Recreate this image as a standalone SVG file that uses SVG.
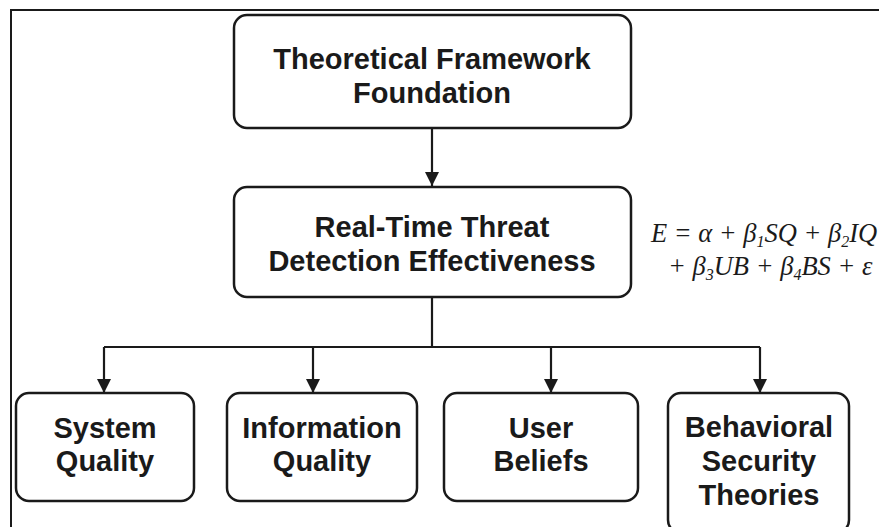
<svg xmlns="http://www.w3.org/2000/svg" width="879" height="527" viewBox="0 0 879 527">
<style>
.box{fill:#fff;stroke:#1a1a1a;stroke-width:2.5}
.lbl{font-family:"Liberation Sans",Arial,sans-serif;font-weight:bold;font-size:29px;fill:#1a1a1a;text-anchor:middle}
.con{fill:none;stroke:#1a1a1a;stroke-width:2.2}
.eq{font-family:"Liberation Serif","Times New Roman",serif;font-style:italic;font-size:26.5px;fill:#1a1a1a}
.sub{font-size:16px}
</style>
<defs>
<marker id="arr" viewBox="0 0 10 10" refX="10" refY="5" markerWidth="6.5" markerHeight="6.5" markerUnits="strokeWidth" orient="auto">
<path d="M0,0 L10,5 L0,10 Z" fill="#1a1a1a"/>
</marker>
</defs>
<rect width="879" height="527" fill="#fff"/>
<path d="M11,527 L11,10 L879,10" fill="none" stroke="#1a1a1a" stroke-width="2"/>
<g id="connectors">
<line class="con" x1="432" y1="129" x2="432" y2="186" marker-end="url(#arr)"/>
<path class="con" d="M432,297 L432,347 M104,347 L760,347"/>
<line class="con" x1="104" y1="347" x2="104" y2="393" marker-end="url(#arr)"/>
<line class="con" x1="313" y1="347" x2="313" y2="393" marker-end="url(#arr)"/>
<line class="con" x1="551" y1="347" x2="551" y2="393" marker-end="url(#arr)"/>
<line class="con" x1="760" y1="347" x2="760" y2="393" marker-end="url(#arr)"/>
</g>
<g id="node-foundation">
<rect class="box" x="234" y="15" width="397" height="113" rx="13"/>
<text class="lbl" x="432" y="69">Theoretical Framework</text>
<text class="lbl" x="432" y="103">Foundation</text>
</g>
<g id="node-effectiveness">
<rect class="box" x="234" y="187" width="397" height="110" rx="13"/>
<text class="lbl" x="432" y="237">Real-Time Threat</text>
<text class="lbl" x="432" y="271">Detection Effectiveness</text>
</g>
<g id="equation">
<text class="eq" x="651" y="242">E = α + β<tspan class="sub" dy="5">1</tspan><tspan dy="-5">SQ + β</tspan><tspan class="sub" dy="5">2</tspan><tspan dy="-5">IQ</tspan></text>
<text class="eq" x="668" y="275">+ β<tspan class="sub" dy="5">3</tspan><tspan dy="-5">UB + β</tspan><tspan class="sub" dy="5">4</tspan><tspan dy="-5">BS + ε</tspan></text>
</g>
<g id="node-system-quality">
<rect class="box" x="16" y="393" width="178" height="108" rx="13"/>
<text class="lbl" x="105" y="438">System</text>
<text class="lbl" x="105" y="471">Quality</text>
</g>
<g id="node-information-quality">
<rect class="box" x="227" y="393" width="190" height="108" rx="13"/>
<text class="lbl" x="322" y="438">Information</text>
<text class="lbl" x="322" y="471">Quality</text>
</g>
<g id="node-user-beliefs">
<rect class="box" x="444" y="393" width="194" height="108" rx="13"/>
<text class="lbl" x="541" y="438">User</text>
<text class="lbl" x="541" y="471">Beliefs</text>
</g>
<g id="node-behavioral">
<rect class="box" x="668" y="393" width="181" height="140" rx="13"/>
<text class="lbl" x="759" y="437">Behavioral</text>
<text class="lbl" x="759" y="471">Security</text>
<text class="lbl" x="759" y="505">Theories</text>
</g>
</svg>
